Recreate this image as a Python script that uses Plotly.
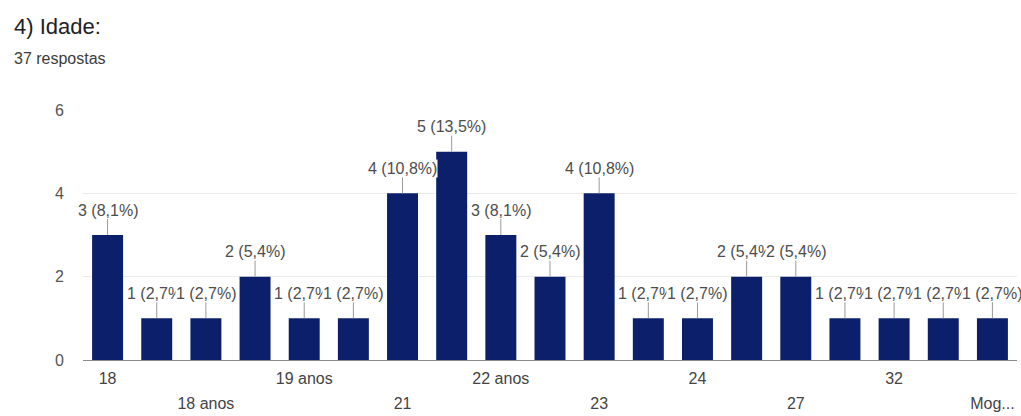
import plotly.graph_objects as go

categories = ["18", "18 Anos", "18 anos", "19", "19 anos", "20", "21", "22", "22 anos", "22anos",
              "23", "23 anos", "24", "25", "27", "28", "32", "35", "Mog..."]
values = [3, 1, 1, 2, 1, 1, 4, 5, 3, 2, 4, 1, 1, 2, 2, 1, 1, 1, 1]
total = 37
title_text = "4) Idade:"
subtitle_text = "37 respostas"

W, H = 1021, 416
ml, mr, mt, mb = 83, 4, 110, 49
pw = W - ml - mr
ph = H - mt - mb

bar_color = "#0b1f6b"
label_color = "#4d4d4d"

fig = go.Figure()
fig.add_trace(go.Bar(x=categories, y=values, marker=dict(color=bar_color, line=dict(width=0)),
                     hoverinfo="x+y"))

# staggered tick labels: every second category, alternate rows
tickvals = categories[::2]
ticktext = []
for i, c in enumerate(tickvals):
    t = "<span style='font-size:16px'>%s</span>" % c
    ticktext.append(t if i % 2 == 0 else "<br>" + t)

annotations = []
for i, v in enumerate(values):
    pct = ("%.1f" % (v / total * 100)).replace(".", ",")
    annotations.append(dict(
        x=i, y=v, xref="x", yref="y", text="%d (%s%%)" % (v, pct),
        showarrow=True, arrowhead=0, arrowwidth=1, arrowcolor="#9a9a9a",
        ax=0, ay=-25, font=dict(size=16, color=label_color, family="Liberation Sans, Arial"),
        bgcolor="white", borderpad=0,
    ))

annotations.append(dict(text=title_text, xref="paper", yref="paper",
                        x=(12 - ml) / pw, y=(H - mb - 24) / ph, xanchor="left", yanchor="middle",
                        showarrow=False, font=dict(size=22, color="#202124", family="Liberation Sans, Arial")))
annotations.append(dict(text=subtitle_text, xref="paper", yref="paper",
                        x=(12 - ml) / pw, y=(H - mb - 57) / ph, xanchor="left", yanchor="middle",
                        showarrow=False, font=dict(size=16, color="#3c3c3c", family="Liberation Sans, Arial")))

fig.update_layout(
    width=W, height=H, margin=dict(l=ml, r=mr, t=mt, b=mb),
    paper_bgcolor="white", plot_bgcolor="white",
    bargap=0.37, showlegend=False,
    font=dict(family="Liberation Sans, Arial", color="#444"),
    annotations=annotations,
    xaxis=dict(type="category", tickmode="array", tickvals=tickvals, ticktext=ticktext,
               tickfont=dict(size=19, color="#444"), showline=True, linecolor="#8a8a8a", linewidth=1,
               ticks="", showgrid=False, range=[-0.5, len(categories) - 0.5], fixedrange=True),
    yaxis=dict(range=[0, 6], dtick=2, tick0=0, showgrid=True, gridcolor="#ebebeb", gridwidth=1,
               zeroline=False, tickfont=dict(size=16, color="#555"), ticks="",
               ticklabelstandoff=18, fixedrange=True),
)

fig.write_html("out.html")
